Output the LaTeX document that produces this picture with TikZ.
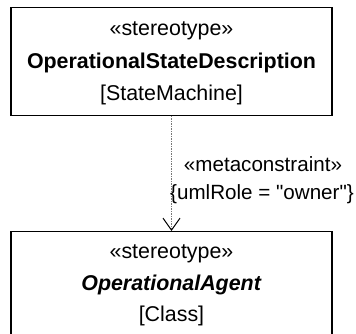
\documentclass[tikz,border=0pt]{standalone}
\usepackage{fontspec}
\setmainfont{Liberation Sans}[Ligatures=TeXOff]
\usetikzlibrary{positioning, arrows.meta}
\definecolor{LinkGray}{RGB}{120,120,120}
\tikzset{
  classbox/.style={draw=black, line width=1.4pt, minimum width=321pt, minimum height=108pt, inner sep=0pt},
  umltext/.style={font=\fontsize{21.4}{24}\selectfont, anchor=base, inner sep=0pt},
  labeltext/.style={font=\fontsize{20.6}{24}\selectfont, anchor=base, inner sep=0pt},
  metalink/.style={draw=LinkGray, line width=0.9pt, dash pattern=on 1.5pt off 1pt,
    -{Straight Barb[length=12pt, width=17pt, line width=1pt, color=black]}},
}

\begin{document}
\begin{tikzpicture}[x=1pt, y=-1pt]
  \clip (0,0) rectangle (356,333);
  % state description
  \node[classbox] (osd) at (171.5,61.25) {};
  \node[umltext] (osdstereo) at (171.5,35) {«stereotype»};
  \node[umltext] (osdname) at (171.5,68) {\textbf{OperationalStateDescription}};
  \node[umltext] (osdmeta) at (171.5,100) {[StateMachine]};
  % agent
  \node[classbox, minimum height=120pt, anchor=north] (agent) at (171.5,231) {};
  \node[umltext] (agentstereo) at (171.5,258) {«stereotype»};
  \node[umltext] (agentname) at (171.5,290) {\textbf{\textit{OperationalAgent}}};
  \node[umltext] (agentmeta) at (171.5,321) {[Class]};
  % constraint
  \draw[metalink] (osd.south) -- (agent.north);
  \node[labeltext] (linkstereo) at (263,171) {«metaconstraint»};
  \node[labeltext] (linkrole) at (262,199) {\{umlRole = "owner"\}};
\end{tikzpicture}
\end{document}
